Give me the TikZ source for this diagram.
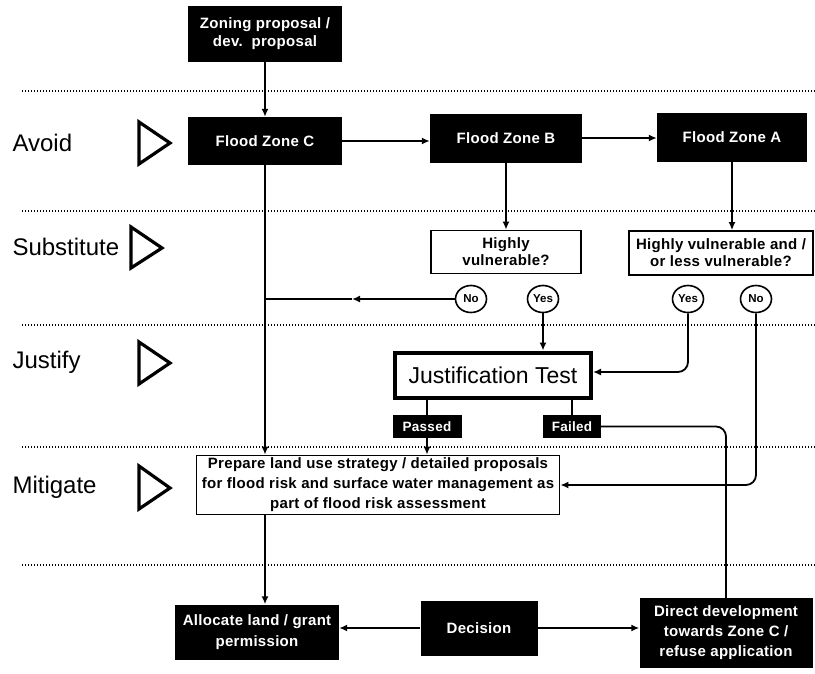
\documentclass[tikz,border=0pt]{standalone}
\usepackage{fontspec}
\setmainfont{Liberation Sans}
\newfontfamily\boxfont[LetterSpace=2]{Liberation Sans}
\usetikzlibrary{arrows.meta,shapes.geometric}
\begin{document}
\begin{tikzpicture}[x=1pt,y=-1pt,
  blk/.style={fill=black,text=white,font=\boxfont\bfseries\fontsize{15}{18}\selectfont,align=center,inner sep=0pt},
  wbox/.style={draw=black,line width=1.7pt,fill=white,font=\boxfont\bfseries\fontsize{15}{17}\selectfont,align=center,inner sep=0pt},
  yn/.style={draw=black,line width=1.6pt,fill=white,ellipse,font=\bfseries\fontsize{11.5}{13}\selectfont,minimum width=31pt,minimum height=27pt,inner sep=0pt},
  lab/.style={anchor=west,font=\fontsize{24}{28}\selectfont},
  conn/.style={line width=1.8pt},
  arr/.style={line width=1.8pt,-{Latex[length=8pt,width=7pt]}},
  sep/.style={line width=1.2pt,dash pattern=on 1.4pt off 1.6pt},
  tri/.style={line width=3.2pt,line join=miter}
]
\useasboundingbox (0,0) rectangle (815,673);
\fill[white] (0,0) rectangle (815,673);

% separators
\foreach \yy in {91,211,325,447,565} \draw[sep] (22,\yy) -- (815,\yy);

% left labels
\node[lab] (avoid) at (9,143) {Avoid};
\node[lab] (subst) at (9,247) {Substitute};
\node[lab] (justify) at (9,362) {Justify};
\node[lab] (mitig) at (9,487) {Mitigate};
\draw[tri] (139,122) -- (139,164) -- (170,143) -- cycle;
\draw[tri] (131,227) -- (131,268) -- (162,248) -- cycle;
\draw[tri] (139,342) -- (139,384) -- (170,363) -- cycle;
\draw[tri] (139,466) -- (139,509) -- (170,488) -- cycle;

% nodes
\node[blk,minimum width=154pt,minimum height=56pt] (zoning) at (265,34) {Zoning proposal /\\dev.\ \ proposal};
\node[blk,minimum width=154pt,minimum height=48pt] (fzc) at (265,141) {Flood Zone C};
\node[blk,minimum width=152pt,minimum height=49pt] (fzb) at (506,138) {Flood Zone B};
\node[blk,minimum width=150pt,minimum height=49pt] (fza) at (732,137) {Flood Zone A};
\node[wbox,minimum width=150pt,minimum height=43pt] (hv) at (506,252) {Highly\\vulnerable?};
\node[wbox,minimum width=184pt,minimum height=44pt] (hvl) at (721,253) {Highly vulnerable and /\\or less vulnerable?};
\node[yn] (no1) at (471,299) {No};
\node[yn] (yes1) at (543,299) {Yes};
\node[yn] (yes2) at (688,299) {Yes};
\node[yn] (no2) at (756,299) {No};
\node[draw=black,line width=4pt,fill=white,minimum width=196pt,minimum height=45pt,inner sep=0pt,font=\fontsize{23}{26}\selectfont] (jt) at (493,375) {Justification Test};
\node[blk,minimum width=69pt,minimum height=23pt,font=\boxfont\bfseries\fontsize{13.5}{15}\selectfont] (passed) at (427,426.5) {Passed};
\node[blk,minimum width=58pt,minimum height=23pt,font=\boxfont\bfseries\fontsize{13.5}{15}\selectfont] (failed) at (572,426.5) {Failed};
\node[wbox,minimum width=363pt,minimum height=59pt,font=\boxfont\bfseries\fontsize{15}{20}\selectfont] (mit) at (378,485) {Prepare land use strategy / detailed proposals\\for flood risk and surface water management as\\part of flood risk assessment};
\node[blk,minimum width=164pt,minimum height=55pt,font=\boxfont\bfseries\fontsize{15}{21}\selectfont] (alloc) at (257,632) {Allocate land / grant\\permission};
\node[blk,minimum width=117pt,minimum height=55pt] (dec) at (479,628) {Decision};
\node[blk,minimum width=173pt,minimum height=70pt,font=\boxfont\bfseries\fontsize{15}{20}\selectfont] (direct) at (726,633) {Direct development\\towards Zone C /\\refuse application};

% connectors
\draw[arr] (zoning.south) -- (fzc.north);
\draw[arr] (fzc.east |- 0,141) -- (fzb.west |- 0,141);
\draw[arr] (fzb.east |- 0,138) -- (fza.west |- 0,138);
\draw[arr] (fzb.south) -- (hv.north);
\draw[arr] (fza.south) -- (fza.south |- hvl.north);
\draw[arr] (fzc.south) -- (fzc.south |- mit.north);
\coordinate (nomid) at (352,299);
\draw[arr] (no1.west) -- (nomid);
\draw[conn] (nomid) -- (fzc.south |- no1.west);
\draw[arr] (yes1.south) -- (yes1.south |- jt.north);
\draw[arr,rounded corners=10pt] (yes2.south) |- ([yshift=3pt]jt.east);
\draw[arr,rounded corners=10pt] (no2.south) |- (mit.east);
\draw[conn] (jt.south -| passed.north) -- (passed.north);
\draw[conn] (jt.south -| failed.north) -- (failed.north);
\draw[arr] (passed.south) -- (passed.south |- mit.north);
\draw[conn,rounded corners=10pt] (failed.east) -| (direct.north);
\draw[arr] (mit.south -| fzc.south) -- (alloc.north -| fzc.south);
\draw[arr] (dec.west) -- (dec.west -| alloc.east);
\draw[arr] (dec.east) -- (dec.east -| direct.west);
\end{tikzpicture}
\end{document}
